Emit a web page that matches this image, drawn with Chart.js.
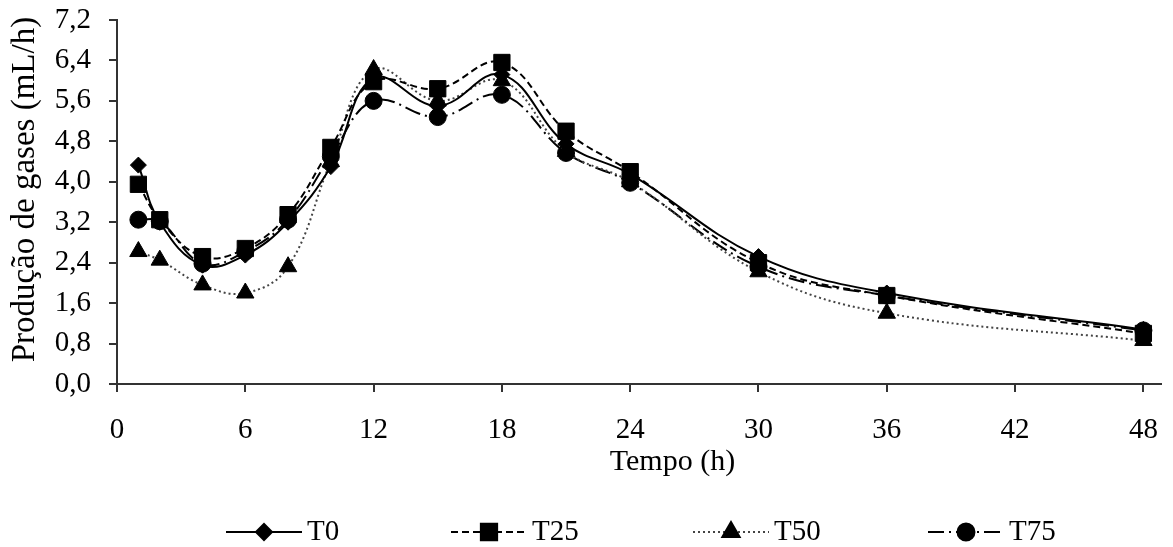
<!DOCTYPE html>
<html>
<head>
<meta charset="utf-8">
<script src="https://cdn.jsdelivr.net/npm/chart.js@4.4.1/dist/chart.umd.min.js"></script>
<style>
  html, body { margin: 0; padding: 0; background: #fff; }
</style>
</head>
<body>
<canvas id="gasChart" width="1173" height="547"></canvas>
<script>
var hours = [1, 2, 4, 6, 8, 10, 12, 15, 18, 21, 24, 30, 36, 48];
var t0  = [4.33, 3.20, 2.35, 2.55, 3.20, 4.30, 6.05, 5.50, 6.12, 4.75, 4.15, 2.52, 1.80, 1.08];
var t25 = [3.95, 3.25, 2.52, 2.68, 3.35, 4.68, 5.98, 5.84, 6.36, 5.00, 4.20, 2.40, 1.75, 1.00];
var t50 = [2.62, 2.45, 1.96, 1.80, 2.32, 4.40, 6.22, 5.60, 6.00, 4.60, 4.00, 2.22, 1.40, 0.86];
var t75 = [3.25, 3.22, 2.38, 2.62, 3.25, 4.50, 5.60, 5.28, 5.72, 4.57, 3.98, 2.32, 1.75, 1.06];

var xTicks = [0, 6, 12, 18, 24, 30, 36, 42, 48];
var yTicks = [0, 0.8, 1.6, 2.4, 3.2, 4.0, 4.8, 5.6, 6.4, 7.2];

var serif = '"Liberation Serif", "Times New Roman", serif';

function toPoints(vals) {
  return hours.map(function(h, i) { return { x: h, y: vals[i] }; });
}

function series(label, vals, dash, style, radius, lineColor) {
  return {
    label: label,
    data: toPoints(vals),
    borderColor: lineColor || '#000',
    borderWidth: 2,
    borderDash: dash,
    pointStyle: style,
    pointRadius: radius,
    pointBackgroundColor: '#000',
    pointBorderColor: '#000',
    pointBorderWidth: 1,
    tension: 0.4,
    fill: false
  };
}

// legend drawn as "line - marker - line  label", like the original figure
var lineLegend = {
  id: 'lineLegend',
  afterDraw: function(chart) {
    var ctx = chart.ctx;
    var y = 532;
    var centers = [264, 489, 731, 966];
    chart.data.datasets.forEach(function(ds, i) {
      var x0 = centers[i] - 38, x1 = centers[i] + 38;
      ctx.save();
      ctx.strokeStyle = ds.borderColor;
      ctx.lineWidth = ds.borderWidth;
      ctx.setLineDash(ds.borderDash);
      ctx.beginPath();
      ctx.moveTo(x0, y);
      ctx.lineTo(x1, y);
      ctx.stroke();
      ctx.setLineDash([]);
      ctx.fillStyle = '#000';
      ctx.strokeStyle = '#000';
      Chart.helpers.drawPoint(ctx, { pointStyle: ds.pointStyle, radius: ds.pointRadius, borderWidth: 1, rotation: 0 }, centers[i], y);
      ctx.font = '29px ' + serif;
      ctx.textBaseline = 'middle';
      ctx.textAlign = 'left';
      ctx.fillText(ds.label, x1 + 5, y);
      ctx.restore();
    });
  }
};

var ctx = document.getElementById('gasChart');

var chart = new Chart(ctx, {
  type: 'line',
  data: {
    datasets: [
      series('T0', t0, [], 'rectRot', 8),
      series('T25', t25, [7, 4], 'rect', 11.5),
      series('T50', t50, [2, 3], 'triangle', 10, '#444'),
      series('T75', t75, [16, 5, 2, 5], 'circle', 8.5)
    ]
  },
  options: {
    responsive: false,
    animation: false,
    devicePixelRatio: 1,
    layout: { padding: { top: 20, right: 3, left: 0, bottom: 60 } },
    plugins: {
      legend: { display: false },
      tooltip: { enabled: false }
    },
    scales: {
      x: {
        type: 'linear',
        min: 0,
        max: 48.8,
        afterBuildTicks: function(scale) {
          scale.ticks = xTicks.map(function(v) { return { value: v }; });
        },
        afterFit: function(scale) {
          scale.height = 103;
          scale.paddingLeft = 0;
          scale.paddingRight = 0;
        },
        ticks: {
          autoSkip: false,
          maxRotation: 0,
          padding: 21,
          color: '#000',
          font: { family: serif, size: 29 },
          callback: function(v) { return String(v); }
        },
        grid: { drawOnChartArea: false, drawTicks: true, tickLength: 8, color: '#333', lineWidth: 2 },
        border: { display: true, color: '#333', width: 2 },
        title: {
          display: true,
          text: '         Tempo (h)',
          color: '#000',
          font: { family: serif, size: 30 },
          padding: { top: 0, bottom: 7 }
        }
      },
      y: {
        min: 0,
        max: 7.2,
        afterBuildTicks: function(scale) {
          scale.ticks = yTicks.map(function(v) { return { value: v }; });
        },
        afterFit: function(scale) {
          scale.width = 117;
          scale.paddingTop = 0;
          scale.paddingBottom = 0;
        },
        ticks: {
          padding: 18,
          color: '#000',
          font: { family: serif, size: 29 },
          callback: function(v) { return v.toFixed(1).replace('.', ','); }
        },
        grid: { drawOnChartArea: false, drawTicks: true, tickLength: 8, color: '#333', lineWidth: 2 },
        border: { display: true, color: '#333', width: 2 },
        title: {
          display: true,
          text: '   Produção de gases (mL/h)',
          color: '#000',
          font: { family: serif, size: 33 },
          padding: { top: 6, bottom: 0 }
        }
      }
    }
  },
  plugins: [lineLegend]
});
</script>
</body>
</html>
